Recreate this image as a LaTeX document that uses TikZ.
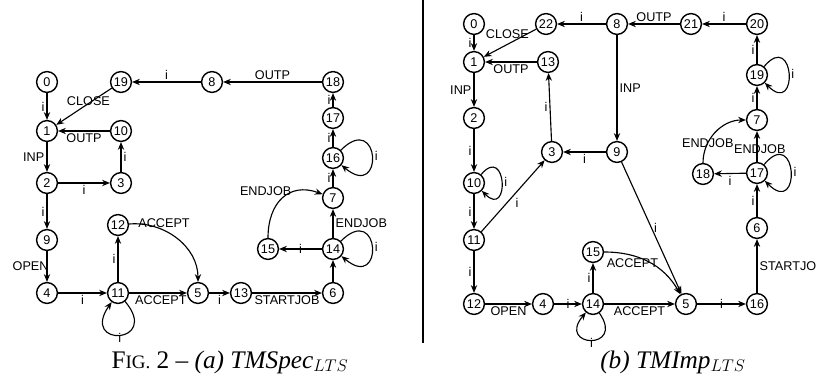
\documentclass[tikz,border=0pt]{standalone}
\usepackage{fontspec}
\setmainfont{Liberation Serif}
\setsansfont{Liberation Sans}
\usetikzlibrary{positioning}
\usetikzlibrary{arrows.meta}

\tikzset{
  state/.style={circle, draw, line width=1pt, minimum size=0.52cm, inner sep=0pt,
                font=\sffamily\fontsize{9}{10}\selectfont},
  trans/.style={line width=0.8pt, -{Stealth[length=5.5pt, width=4.5pt]}},
  lbl/.style={font=\sffamily\fontsize{9}{10}\selectfont, inner sep=1.5pt},
}

\begin{document}
\begin{tikzpicture}[x=0.025cm, y=0.025cm]
  \useasboundingbox (0,0) rectangle (820,385);

  % (a) states
  \node[state] (a0) at (47,303) {0};
  \node[state] (a19) at (121,303) {19};
  \node[state] (a8) at (212,303) {8};
  \node[state] (a18) at (333,303) {18};
  \node[state] (a1) at (47,254) {1};
  \node[state] (a10) at (121,254) {10};
  \node[state] (a2) at (47,202) {2};
  \node[state] (a3) at (121,202) {3};
  \node[state] (a17) at (333,267) {17};
  \node[state] (a16) at (333,227) {16};
  \node[state] (a7) at (333,187) {7};
  \node[state] (a12) at (118,160) {12};
  \node[state] (a9) at (47,145) {9};
  \node[state] (a15) at (268,136) {15};
  \node[state] (a14) at (333,136) {14};
  \node[state] (a4) at (47,92) {4};
  \node[state] (a11) at (118,92) {11};
  \node[state] (a5) at (198,92) {5};
  \node[state] (a13) at (241,92) {13};
  \node[state] (a6) at (333,92) {6};

  % (a) transitions
  \draw[trans] (a0) -- node[lbl, left] {i} (a1);
  \draw[trans] (a19) -- node[lbl, pos=0.42, yshift=2pt] {CLOSE} (a1);
  \draw[trans] (a10) -- node[lbl, below] {OUTP} (a1);
  \draw[trans] (a1) -- node[lbl, left] {INP} (a2);
  \draw[trans] (a2) -- node[lbl, below] {i} (a3);
  \draw[trans] (a3) -- node[lbl, right] {i} (a10);
  \draw[trans] (a2) -- node[lbl, left] {i} (a9);
  \draw[trans] (a9) -- node[lbl, left, xshift=3pt] {OPEN} (a4);
  \draw[trans] (a4) -- node[lbl, below] {i} (a11);
  \draw[trans] (a11) -- node[lbl, left] {i} (a12);
  \draw[trans] (a11) -- node[lbl, below, pos=0.55] {ACCEPT} (a5);
  \draw[trans] (a11) to[out=-50, in=-125, min distance=1.4cm] node[lbl, below, inner sep=0pt, yshift=2pt] {i} (a11);
  \draw[trans] (a12) to[out=5, in=90] node[lbl, above, pos=0.35] {ACCEPT} (a5);
  \draw[trans] (a5) -- node[lbl, below] {i} (a13);
  \draw[trans] (a13) -- node[lbl, below] {STARTJOB} (a6);
  \draw[trans] (a6) -- (a14);
  \draw[trans] (a14) -- node[lbl] {i} (a15);
  \draw[trans] (a14) -- node[lbl, right] {ENDJOB} (a7);
  \draw[trans] (a14) to[out=45, in=-40, min distance=1.4cm] node[lbl, right] {i} (a14);
  \draw[trans] (a15) to[out=90, in=160, looseness=1.3] node[lbl, pos=0.5, above left, xshift=8pt] {ENDJOB} (a7);
  \draw[trans] (a7) -- node[lbl, left] {i} (a16);
  \draw[trans] (a16) -- node[lbl, left] {i} (a17);
  \draw[trans] (a16) to[out=45, in=-40, min distance=1.4cm] node[lbl, right] {i} (a16);
  \draw[trans] (a17) -- node[lbl, left] {i} (a18);
  \draw[trans] (a18) -- node[lbl, above] {OUTP} (a8);
  \draw[trans] (a8) -- node[lbl, above] {i} (a19);

  % separator
  \coordinate (sepTop) at (423,385);
  \coordinate (sepBot) at (423,42);
  \draw[line width=1.2pt] (sepTop) -- (sepBot);

  % (b) states
  \node[state] (b0) at (474,361) {0};
  \node[state] (b22) at (546,361) {22};
  \node[state] (b8) at (617,361) {8};
  \node[state] (b21) at (691,361) {21};
  \node[state] (b20) at (757,361) {20};
  \node[state] (b1) at (474,323) {1};
  \node[state] (b13) at (548,323) {13};
  \node[state] (b19) at (757,310) {19};
  \node[state] (b2) at (474,267) {2};
  \node[state] (b7) at (757,265) {7};
  \node[state] (b3) at (552,233) {3};
  \node[state] (b9) at (617,233) {9};
  \node[state] (b18) at (703,211) {18};
  \node[state] (b17) at (757,212) {17};
  \node[state] (b10) at (474,202) {10};
  \node[state] (b6) at (757,157) {6};
  \node[state] (b11) at (474,145) {11};
  \node[state] (b15) at (593,133) {15};
  \node[state] (b12) at (474,81) {12};
  \node[state] (b4) at (543,81) {4};
  \node[state] (b14) at (593,81) {14};
  \node[state] (b5) at (686,81) {5};
  \node[state] (b16) at (757,81) {16};

  % (b) transitions
  \draw[trans] (b0) -- node[lbl, left] {i} (b1);
  \draw[trans] (b22) -- node[lbl, pos=0.55, above, yshift=2pt] {CLOSE} (b1);
  \draw[trans] (b13) -- node[lbl, below] {OUTP} (b1);
  \draw[trans] (b1) -- node[lbl, left] {INP} (b2);
  \draw[trans] (b2) -- node[lbl, left] {i} (b10);
  \draw[trans] (b10) to[out=50, in=-45, min distance=1cm] node[lbl, right] {i} (b10);
  \draw[trans] (b10) -- node[lbl, left] {i} (b11);
  \draw[trans] (b11) -- node[lbl, below right] {i} (b3);
  \draw[trans] (b3) -- node[lbl, left] {i} (b13);
  \draw[trans] (b9) -- node[lbl, below] {i} (b3);
  \draw[trans] (b8) -- node[lbl, above] {i} (b22);
  \draw[trans] (b8) -- node[lbl, right] {INP} (b9);
  \draw[trans] (b21) -- node[lbl, above] {OUTP} (b8);
  \draw[trans] (b20) -- node[lbl, above] {i} (b21);
  \draw[trans] (b19) -- node[lbl, left] {i} (b20);
  \draw[trans] (b19) to[out=50, in=-45, min distance=1.2cm] node[lbl, right] {i} (b19);
  \draw[trans] (b7) -- node[lbl, left] {i} (b19);
  \draw[trans] (b18) to[out=90, in=180] node[lbl, pos=0.3] {ENDJOB} (b7);
  \draw[trans] (b17) -- node[lbl, pos=0.4, xshift=2pt] {ENDJOB} (b7);
  \draw[trans] (b17) -- node[lbl, below] {i} (b18);
  \draw[trans] (b17) to[out=50, in=-45, min distance=1.3cm] node[lbl, right] {i} (b17);
  \draw[trans] (b6) -- node[lbl, left] {i} (b17);
  \draw[trans] (b16) -- node[lbl, right] {STARTJO} (b6);
  \draw[trans] (b5) -- node[lbl] {i} (b16);
  \draw[trans] (b14) -- node[lbl, below] {ACCEPT} (b5);
  \draw[trans] (b15) to[out=0, in=120] node[lbl, below, pos=0.3] {ACCEPT} (b5);
  \draw[trans] (b9) -- node[lbl, right] {i} (b5);
  \draw[trans] (b14) -- node[lbl, left] {i} (b15);
  \draw[trans] (b14) to[out=-55, in=-130, min distance=1.15cm] node[lbl, below, inner sep=0pt, yshift=2pt] {i} (b14);
  \draw[trans] (b4) -- node[lbl] {i} (b14);
  \draw[trans] (b12) -- node[lbl, below] {OPEN} (b4);
  \draw[trans] (b11) -- node[lbl, left] {i} (b12);

  % captions
  \node[font=\fontsize{18}{20}\selectfont] (capA) at (230,23)
    {F{\fontsize{13.5}{15}\selectfont IG.}~2 -- \textit{(a) TMSpec}$_{LTS}$};
  \node[font=\fontsize{18}{20}\selectfont] (capB) at (673,23)
    {\textit{(b) TMImp}$_{LTS}$};
\end{tikzpicture}
\end{document}
